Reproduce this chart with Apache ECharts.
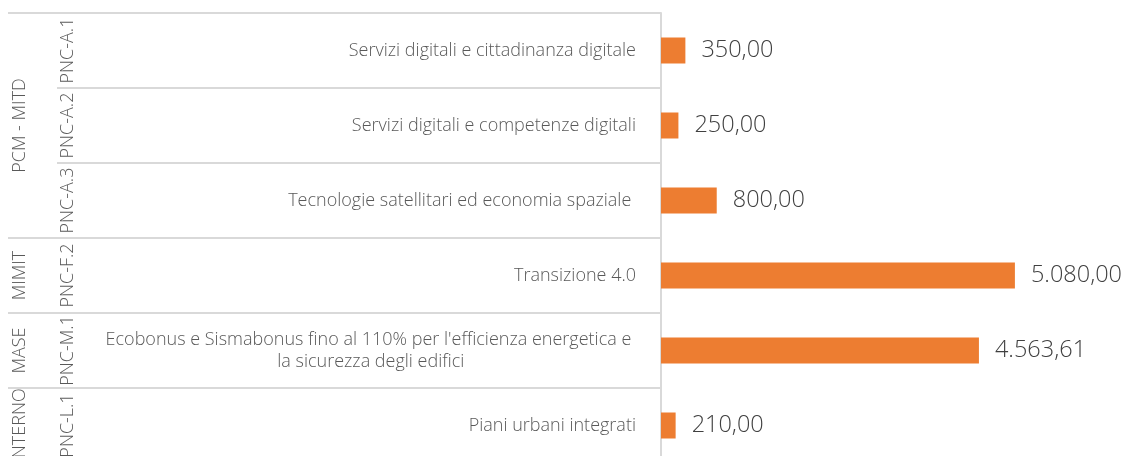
<!DOCTYPE html>
<html>
<head>
<meta charset="utf-8">
<script src="https://cdn.jsdelivr.net/npm/echarts@6/dist/echarts.min.js"></script>
<style>
    html, body { margin: 0; padding: 0; background: #fff; }
    #chart { width: 1137px; height: 456px; }
</style>
</head>
<body>
<div id="chart"></div>
<script>
const groups = ['PCM - MITD', 'PCM - MITD', 'PCM - MITD', 'MIMIT', 'MASE', 'INTERNO'];
const codes = ['PNC-A.1', 'PNC-A.2', 'PNC-A.3', 'PNC-F.2', 'PNC-M.1', 'PNC-L.1'];
const descriptions = [
    'Servizi digitali e cittadinanza digitale',
    'Servizi digitali e competenze digitali',
    'Tecnologie satellitari ed economia spaziale ',
    'Transizione 4.0',
    "Ecobonus e Sismabonus fino al 110% per l'efficienza energetica e \nla sicurezza degli edifici",
    'Piani urbani integrati'
];
const values = [350, 250, 800, 5080, 4563.61, 210];

const GRID_LINE = '#d9d9d9';
const TEXT = '#595959';
const FONT = '"Open Sans", "Liberation Sans", sans-serif';

// italian number format: 5.080,00
function formatValue(v) {
    const parts = v.toFixed(2).split('.');
    return parts[0].replace(/\B(?=(\d{3})+(?!\d))/g, '.') + ',' + parts[1];
}

// a group starts where its name differs from the row above
function isGroupStart(i) {
    return i === 0 || groups[i] !== groups[i - 1];
}

// show the group name only on the middle row of its run
function groupLabel(i) {
    let start = i, end = i;
    while (start > 0 && groups[start - 1] === groups[i]) start--;
    while (end < groups.length - 1 && groups[end + 1] === groups[i]) end++;
    return i === Math.floor((start + end) / 2) ? groups[i] : '';
}

const chart = echarts.init(document.getElementById('chart'));

chart.setOption({
    animation: false,
    grid: {
        left: 661,
        right: 58,
        top: 13,
        bottom: -7,
        containLabel: false,
        outerBoundsMode: 'none'
    },
    xAxis: {
        type: 'value',
        min: 0,
        max: 6000,
        show: false
    },
    yAxis: [
        {
            type: 'category',
            inverse: true,
            data: descriptions,
            position: 'left',
            axisLine: { show: true, lineStyle: { color: GRID_LINE, width: 2 } },
            axisTick: { show: true, length: 604, interval: 0, lineStyle: { color: GRID_LINE, width: 2 } },
            splitLine: { show: false },
            axisLabel: {
                interval: 0,
                margin: 25,
                fontFamily: FONT,
                fontSize: 18,
                fontWeight: 300,
                color: TEXT,
                lineHeight: 22,
                formatter: function (value) {
                    return value.split('\n').map(function (s) { return '{c|' + s + '}'; }).join('\n');
                },
                rich: {
                    c: { align: 'center', fontFamily: FONT, fontSize: 18, fontWeight: 300, color: TEXT, lineHeight: 22 }
                }
            }
        },
        {
            type: 'category',
            inverse: true,
            data: codes,
            position: 'left',
            axisLine: { show: false },
            axisTick: {
                show: true,
                length: 653,
                interval: function (index) { return isGroupStart(index); },
                lineStyle: { color: GRID_LINE, width: 2 }
            },
            splitLine: { show: false },
            axisLabel: {
                interval: 0,
                rotate: 90,
                margin: 584,
                fontFamily: FONT,
                fontSize: 18,
                fontWeight: 300,
                color: TEXT
            }
        },
        {
            type: 'category',
            inverse: true,
            data: codes,
            position: 'left',
            axisLine: { show: false },
            axisTick: { show: false },
            splitLine: { show: false },
            axisLabel: {
                interval: 0,
                rotate: 90,
                margin: 632,
                fontFamily: FONT,
                fontSize: 18,
                fontWeight: 300,
                color: TEXT,
                formatter: function (value, index) { return groupLabel(index); }
            }
        }
    ],
    series: [
        {
            type: 'bar',
            yAxisIndex: 0,
            data: values,
            barWidth: 26,
            itemStyle: { color: '#ED7D31' },
            label: {
                show: true,
                position: 'right',
                distance: 16,
                fontFamily: FONT,
                fontSize: 23.5,
                fontWeight: 300,
                color: '#404040',
                formatter: function (p) { return formatValue(p.value); }
            }
        }
    ]
});
</script>
</body>
</html>
